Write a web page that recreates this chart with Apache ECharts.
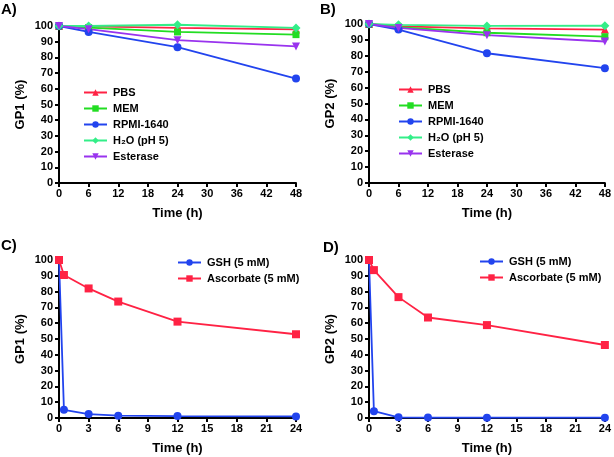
<!DOCTYPE html>
<html><head><meta charset="utf-8">
<script src="https://cdn.jsdelivr.net/npm/echarts@6/dist/echarts.min.js"></script>
<style>html,body{margin:0;padding:0;background:#fff}#c{width:614px;height:457px}</style>
</head><body><div id="c"></div>
<script>
// Panels A/B time points (h)
const timeAB = [0, 6, 24, 48];
// Panel A: GP1 (%)
const A_PBS = [100, 99.8, 98.8, 97.8];
const A_MEM = [100, 99, 96.2, 94.5];
const A_RPMI = [100, 96.2, 86.5, 66.5];
const A_H2O = [100, 100, 100.8, 98.8];
const A_Esterase = [100, 98, 91, 87];
// Panel B: GP2 (%)
const B_PBS = [100, 98.5, 97.3, 96.5];
const B_MEM = [100, 98, 94.5, 92];
const B_RPMI = [100, 96.5, 81.6, 72.2];
const B_H2O = [100, 99.5, 98.8, 98.9];
const B_Esterase = [100, 97.5, 93, 89];
// Panels C/D time points (h)
const timeCD = [0, 0.5, 3, 6, 12, 24];
const C_GSH = [100, 5.2, 2.5, 1.5, 1.2, 1.0];
const C_Asc = [100, 90.5, 82, 73.7, 61, 53];
const D_GSH = [100, 4.3, 0.4, 0.3, 0.2, 0.2];
const D_Asc = [100, 93.6, 76.5, 63.6, 58.8, 46.2];
// Tick settings
const yMin = 0, yMax = 100, yStep = 10;
const xMaxAB = 48, xStepAB = 6;
const xMaxCD = 24, xStepCD = 3;

const FONT = 'Liberation Sans, Arial, sans-serif';
const COL = {PBS:'#ff2244', MEM:'#22dd22', RPMI:'#2244ee', H2O:'#33ee88', Est:'#9933ee', GSH:'#2244ee', Asc:'#ff2244'};
const NAMES = {PBS:'PBS', MEM:'MEM', RPMI:'RPMI-1640', H2O:'H\u2082O (pH 5)', Est:'Esterase', GSH:'GSH (5 mM)', Asc:'Ascorbate (5 mM)'};

const grids = [
  {left:59, right:318, top:26, bottom:274},
  {left:369, right:8, top:24, bottom:274},
  {left:59, right:318, top:260, bottom:39},
  {left:369, right:8, top:260, bottom:39}
];
const axisCommon = {
  axisLine:{show:true, onZero:false, lineStyle:{color:'#000', width:2}},
  axisTick:{show:true, inside:false, length:4, lineStyle:{color:'#000', width:2}},
  splitLine:{show:false},
  axisLabel:{color:'#000', fontFamily:FONT, fontWeight:'bold', fontSize:11, margin:6},
  nameTextStyle:{color:'#000', fontFamily:FONT, fontWeight:'bold', fontSize:13}
};
const xAxes = [0,1,2,3].map(i => Object.assign({}, axisCommon, {
  type:'value', gridIndex:i, min:0, max: i<2 ? xMaxAB : xMaxCD, interval: i<2 ? xStepAB : xStepCD,
  name:'Time (h)', nameLocation:'middle', nameGap:24,
  axisLabel:Object.assign({}, axisCommon.axisLabel, {margin:5})
}));
const yAxes = [0,1,2,3].map(i => Object.assign({}, axisCommon, {
  type:'value', gridIndex:i, min:yMin, max:yMax, interval:yStep,
  name: (i%2===0) ? 'GP1 (%)' : 'GP2 (%)', nameLocation:'middle', nameGap:32
}));

function ser(key, data, times, gi, symbol, rot, size) {
  return {
    type:'line', name:NAMES[key], xAxisIndex:gi, yAxisIndex:gi,
    data: times.map((t,k)=>[t, data[k]]),
    symbol:symbol, symbolRotate:rot||0, symbolSize:size||7, clip:false,
    lineStyle:{color:COL[key], width:1.8}, itemStyle:{color:COL[key]},
    emphasis:{disabled:true}, animation:false
  };
}
const series = [
  ser('PBS', A_PBS, timeAB, 0, 'triangle', 0, 8),
  ser('MEM', A_MEM, timeAB, 0, 'rect', 0, 7),
  ser('RPMI', A_RPMI, timeAB, 0, 'circle', 0, 8),
  ser('H2O', A_H2O, timeAB, 0, 'diamond', 0, 9),
  ser('Est', A_Esterase, timeAB, 0, 'triangle', 180, 8),
  ser('PBS', B_PBS, timeAB, 1, 'triangle', 0, 8),
  ser('MEM', B_MEM, timeAB, 1, 'rect', 0, 7),
  ser('RPMI', B_RPMI, timeAB, 1, 'circle', 0, 8),
  ser('H2O', B_H2O, timeAB, 1, 'diamond', 0, 9),
  ser('Est', B_Esterase, timeAB, 1, 'triangle', 180, 8),
  ser('GSH', C_GSH, timeCD, 2, 'circle', 0, 8),
  ser('Asc', C_Asc, timeCD, 2, 'rect', 0, 8),
  ser('GSH', D_GSH, timeCD, 3, 'circle', 0, 8),
  ser('Asc', D_Asc, timeCD, 3, 'rect', 0, 8)
];
const legendBase = {
  orient:'vertical', itemWidth:23, itemHeight:8, itemGap:5, selectedMode:false,
  textStyle:{color:'#000', fontFamily:FONT, fontWeight:'bold', fontSize:11, padding:[0,0,0,1]},
  padding:0
};
const legends = [
  Object.assign({}, legendBase, {left:83, top:87, data:[NAMES.PBS, NAMES.MEM, NAMES.RPMI, NAMES.H2O, NAMES.Est]}),
  Object.assign({}, legendBase, {left:398, top:84, data:[NAMES.PBS, NAMES.MEM, NAMES.RPMI, NAMES.H2O, NAMES.Est]}),
  Object.assign({}, legendBase, {left:177, top:257, data:[NAMES.GSH, NAMES.Asc]}),
  Object.assign({}, legendBase, {left:479, top:256, data:[NAMES.GSH, NAMES.Asc]})
];
const panelLabel = (txt, x, y) => ({type:'text', left:x, top:y, style:{text:txt, fill:'#000', font:'bold 15px ' + FONT}});

const chart = echarts.init(document.getElementById('c'), null, {renderer:'canvas'});
chart.setOption({
  backgroundColor:'#fff', animation:false,
  grid:grids, xAxis:xAxes, yAxis:yAxes, series:series, legend:legends,
  graphic:[panelLabel('A)', 1, 2), panelLabel('B)', 320, 2), panelLabel('C)', 1, 238), panelLabel('D)', 323, 240)]
});
</script></body></html>
